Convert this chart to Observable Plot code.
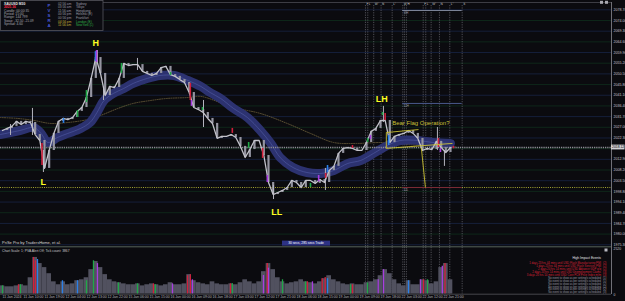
<!DOCTYPE html>
<html><head><meta charset="utf-8">
<script src="https://cdn.jsdelivr.net/npm/d3@7"></script>
<script src="https://cdn.jsdelivr.net/npm/@observablehq/plot@0.6"></script>
<style>
html,body{margin:0;padding:0;background:#0b0b0f;}
#wrap{position:relative;width:625px;height:301px;overflow:hidden;background:#0b0b0f;}
#wrap svg{position:absolute;left:0;}
</style></head><body><div id="wrap"></div>
<script>
const FONT = "'Liberation Sans', Arial, sans-serif";

// ---- price axis ----
const gridPrices = [2078.70,2074.00,2069.30,2064.60,2059.90,2055.20,2050.50,2045.80,2041.10,2036.40,2031.70,2027.00,2022.30,2017.60,2012.90,2008.20,2003.50,1998.80,1994.10,1989.40,1984.70,1980.00,1975.30];
const hiddenTick = 2017.60;
const currentPrice = 2018.1;
const currentLabel = "2018.12";
const supportPrice = 2000.5;

// ---- price series (close every 4 bars, M30) ----
const closes = [2025.6,2026.5,2027.4,2029.6,2028.2,2029.6,2029.1,2023.8,2021.2,2008.9,
2016.8,2024.3,2029.6,2030.9,2030.4,2031.3,2034.0,2035.7,2040.1,2048.5,
2057.7,2050.7,2041.0,2045.0,2044.5,2048.5,2055.1,2054.2,2054.6,2054.6,
2051.6,2050.7,2049.8,2050.7,2053.3,2053.8,2050.2,2049.4,2048.0,2046.7,
2042.3,2035.7,2034.8,2033.5,2030.9,2028.7,2022.1,2023.0,2023.0,2023.8,
2022.5,2018.6,2013.7,2017.2,2021.2,2021.2,2014.6,2002.7,1997.4,1998.3,
1999.2,2000.5,2003.6,2002.7,2000.5,2003.6,2003.6,2002.3,2004.0,2002.7,
2008.0,2009.8,2015.5,2017.7,2018.1,2017.7,2016.8,2016.8,2020.3,2025.2,
2026.5,2030.0,2030.0,2020.3,2023.0,2023.8,2024.3,2025.6,2024.3,2022.1,
2016.8,2017.7,2017.2,2020.8,2018.1,2015.9,2018.1];
const barStep = 4;

// wicks: bar, high, low
const wickBars = [6.9,25.7,35.1,81.4,86.6,115.7,172.3,232.3,276.8,326.5,372.8,378.8];
const wickHigh = [2028.2,2035.3,2016.8,2060.8,2044.1,2057.3,2038.8,2001.4,2008.9,2036.2,2026.9,2016.8];
const wickLow  = [2023.4,2023.4,2007.1,2055.5,2038.8,2052.0,2026.9,1995.2,1999.2,2029.1,2016.8,2009.8];

// coloured (PVSRA) candles: bar, high, low, colour
const pvBars  = [33.9,52.3,64.3,72,79.7,80.6,102,144,161,162,171.4,197,211,223,227,264,271,277,278.6,300,313,315.4,325.7,328,331,373.7,375.4,386.5];
const pvHigh  = [2019.9,2030.9,2034.4,2043.2,2060.3,2060.8,2055.1,2051.1,2046.3,2038.8,2035.7,2026.5,2020.3,2017.7,2005.8,2002.3,2005.8,2006.7,2010.2,2019.0,2022.1,2023.4,2033.5,2033.1,2023.4,2022.1,2017.7,2018.6];
const pvLow   = [2010.2,2028.7,2031.3,2037.9,2056.0,2055.5,2050.7,2049.8,2038.8,2036.2,2034.4,2024.3,2017.7,2013.3,2002.7,2000.5,2003.0,2004.5,2007.1,2017.7,2020.3,2021.6,2032.2,2030.0,2019.0,2018.1,2015.9,2017.6];
const pvColor = ["r","b","g","g","b","m","g","g","r","m","g","r","g","r","m","g","m","r","b","r","g","m","g","r","b","r","m","r"];
const COLORS = {r:"#d0203c", g:"#20a848", b:"#2a80e8", m:"#a83ee0"};

// EMA ribbon
const bandBars = [-2,15,27,33,39,47,56,67,75,81,87,95,104,112,124,135,147,159,170,178,187,198,210,221,230,238,249,261,273,284,296,307,318,330,341,356,369,384];
const bandPrices = [2023.8,2025.6,2026.9,2024.3,2020.3,2022.5,2024.3,2026.5,2029.1,2033.5,2038.8,2041.9,2044.1,2046.3,2048.5,2049.8,2049.8,2047.6,2045.0,2042.3,2039.7,2035.3,2031.3,2025.6,2019.9,2013.7,2009.3,2007.1,2006.7,2008.0,2011.1,2012.4,2015.5,2019.0,2021.2,2021.2,2020.3,2019.9];

// slow MA (dotted)
const maBars = [-2,13,27,41,56,73,84,99,112,127,141,159,170,198,221,244,264,284,304,327,358,388];
const maPrices = [2031.3,2030.9,2030.0,2028.7,2029.1,2030.4,2032.2,2035.3,2037.5,2038.8,2039.7,2040.1,2040.6,2035.7,2033.1,2028.7,2024.3,2020.3,2019.9,2020.3,2019.0,2018.6];

// news event lines
const eventBars = [311.1,313.1,318.2,324.5,334,343.1,344.5,346.2,360.6,362.8,367.4,374.5,383.4,394];
const eventLabels = ["F","L","W*","N","L*","W*","","H","F","L","W*","N","L*","S"];

// weekly levels
const levelNames = ["WH","52H","52L"];
const levelPrices = [2078.4,2037.5,2000.5];
const levelColors = ["#7c8498","#4a5a8c","#7a2a34"];
const levelFrom = 343, levelTo = 394;

// bear flag drawing: x1,y1,x2,y2 (bar, price)
const flagX1 = [329,329,329,359];
const flagY1 = [2024.7,2024.7,2017.7,2018.1];
const flagX2 = [329,356.6,385.7,362.5];
const flagY2 = [2017.7,2026.0,2019.9,2000.5];

// swing labels
const pivotText = ["H","L","LL","LH"];
const pivotBars = [80,35,235,325];
const pivotPrices = [2063.9,2002.7,1989.5,2039.2];
const noteText = "Bear Flag Operation?";
const noteBar = 334, notePrice = 2028.7;

// ---- volume (tick volume every 4 bars) ----
const volumes = [440,390,390,440,500,440,880,1980,1650,1430,
1100,660,500,660,500,550,720,770,880,1320,
1760,1430,1050,770,660,610,550,500,500,550,
440,500,550,500,440,500,610,500,500,550,
1050,720,610,550,500,660,550,500,500,550,
500,610,770,660,550,660,1210,1650,1320,880,
660,550,610,660,770,660,610,550,660,830,
990,770,660,550,500,550,500,500,610,660,
770,990,1320,1100,770,550,440,720,500,500,
770,720,550,660,1430,1650,770];
const volMax = 2520;
const pvVolBars = [0,13.7,15.4,26.6,28.3,30,51.4,64.3,72,78,81.4,99.4,115.7,129.4,131,145.7,158.6,161,162.8,195.4,197,223.7,227,228,240,259.7,261.4,265.7,274,276.6,278.6,298.3,300,312.9,322,326.6,348,358.3,360.9,364.3,377,379.3];
const pvVol = [440,500,500,1980,1800,1870,720,720,720,1800,1650,600,550,550,500,550,990,1050,770,550,550,1000,1650,1400,770,660,660,660,830,900,830,500,500,600,770,1320,720,770,770,770,1500,1650];
const pvVolColor = ["g","r","g","r","r","b","b","b","g","g","m","g","g","r","g","m","r","r","m","r","g","m","r","m","g","g","r","m","r","r","b","g","r","g","m","m","b","m","r","g","m","r"];

// time axis
const timeBars = [0,18,36,54,72,90,108,126,144,162,180,198,216,234,252,270,288,306,324,342,360,378];
const timeLabels = ["11 Jan 2024","11 Jan 10:00","11 Jan 19:00","12 Jan 04:00","12 Jan 13:00","12 Jan 22:00","15 Jan 06:00","15 Jan 15:00","16 Jan 00:00","16 Jan 09:00","16 Jan 18:00","17 Jan 03:00","17 Jan 12:00","17 Jan 21:00","18 Jan 06:00","18 Jan 15:00","19 Jan 00:00","19 Jan 09:00","19 Jan 18:00","22 Jan 03:00","22 Jan 12:00","22 Jan 21:00"];

// ---- text panels ----
const infoLeft = ["XAUUSD  M30","2021.36","Candle:  00:00:35","Period:  15:00","Range:  144  799","Swap:  -32.50  -21.09","Spread:  4.60"];
const pvsraLetters = ["P","V","S","R","A"];
const sessionTimes = ["02:56 am","03:56 am","11:56 am","00:56 pm","00:56 pm","04:56 pm","11:56 am"];
const sessionNames = ["Sydney","Tokyo","Hongkong","Helsinki (E)","Frankfurt","London (E)","NewYork (L)"];
const eventsTitle = "High Impact Events";
const eventsRed = ["1 days 23 hrs 44 mins until USD Flash Manufacturing PMI","1 days 23 hrs 44 mins until USD Flash Services PMI","2 days 20 hrs 14 mins until USD Advance GDP q/q","2 days 20 hrs 14 mins until USD Unemployment Claims","3 days 20 hrs 14 mins until USD Core PCE Price Index m/m"];
const eventsRedImpact = ["(2)","(2)","(2)","(3)","(3)"];
const eventsGray = ["No event to show as per setting/s scheduled","No event to show as per setting/s scheduled","No event to show as per setting/s scheduled","No event to show as per setting/s scheduled","No event to show as per setting/s scheduled","No event to show as per setting/s scheduled"];
const eventsGrayImpact = ["(1)","(1)","(2)","(2)","(2)","(3)"];
const brandText = "PriSe Pro by TradersHome, et al.";
const statusText = "Chart Scale: 1;   PVA Alert Off;   Tick count: 3867";
const timerText = "30 secs, 285 secs Trade";

// ---- build data tables ----
const cData = closes.map((c,i)=>({b:i*barStep, c, prev: i ? closes[i-1] : c}));
const wicks = wickBars.map((b,i)=>({b, hi:wickHigh[i], lo:wickLow[i]}));
const pv = pvBars.map((b,i)=>({b, hi:pvHigh[i], lo:pvLow[i], color:COLORS[pvColor[i]]}));
const band = bandBars.map((b,i)=>({b, p:bandPrices[i]}));
const ma = maBars.map((b,i)=>({b, p:maPrices[i]}));
const levels = levelNames.map((n,i)=>({n, p:levelPrices[i], color:levelColors[i]}));
const flag = flagX1.map((x,i)=>({x1:x, y1:flagY1[i], x2:flagX2[i], y2:flagY2[i]}));
const pivots = pivotText.map((t,i)=>({t, b:pivotBars[i], p:pivotPrices[i]}));
const volData = volumes.map((v,i)=>({b:i*barStep, v}));
const pvVolData = pvVolBars.map((b,i)=>({b, v:pvVol[i], color:COLORS[pvVolColor[i]]}));
const timeMap = new Map(timeBars.map((b,i)=>[b, timeLabels[i]]));

const XD = [-1.7, 522];
const style = {background:"transparent", fontFamily:FONT, color:"#c4c4cc", overflow:"visible"};

const main = Plot.plot({
  width:625, height:247, marginTop:5, marginBottom:0, marginLeft:0, marginRight:14,
  x:{domain:XD, axis:null},
  y:{domain:[1974.1, 2080.6]},
  color:{type:"identity"},
  style,
  marks:[
    Plot.ruleY(gridPrices, {y:d=>d, stroke:(d,i)=> i%2 ? "#0f2a1b" : "#162140", strokeWidth:0.9}),
    Plot.ruleX(eventBars, {x:d=>d, stroke:"#6c6c74", strokeWidth:0.7, strokeDasharray:"1.2,1.2"}),
    Plot.text(eventBars, {x:d=>d, text:(d,i)=>eventLabels[i], frameAnchor:"top", dy:-2.4, dx:1, textAnchor:"start", fontSize:3, fill:"#d0d0d0"}),
    Plot.line(ma, {x:"b", y:"p", stroke:"#74653e", strokeOpacity:0.85, strokeWidth:0.9, strokeDasharray:"1,1.3", curve:"catmull-rom"}),
    Plot.line(band, {x:"b", y:"p", stroke:"#2c3270", strokeWidth:9, curve:"catmull-rom"}),
    Plot.line(band, {x:"b", y:"p", stroke:"#5560aa", strokeWidth:0.8, strokeOpacity:0.7, curve:"catmull-rom"}),
    Plot.ruleY([currentPrice], {stroke:"#8c8c94", strokeWidth:1.3, strokeDasharray:"1.3,0.9"}),
    Plot.ruleY([supportPrice], {stroke:"#a5a530", strokeWidth:1, strokeDasharray:"1,1.2"}),
    Plot.ruleY(levels, {y:"p", x1:levelFrom, x2:levelTo, stroke:"color", strokeWidth:1}),
    Plot.text(levels, {y:"p", x:levelFrom, text:"n", dx:1, dy:2.5, textAnchor:"start", fontSize:2.8, fill:"#9a9aa4"}),
    Plot.ruleX(cData, {x:"b", y1:"prev", y2:"c", stroke:"#9494a0", strokeWidth:2.2}),
    Plot.ruleX(wicks, {x:"b", y1:"hi", y2:"lo", stroke:"#b4b4be", strokeWidth:1}),
    Plot.line(cData, {x:"b", y:"c", stroke:"#c2c2ca", strokeWidth:1.3}),
    Plot.ruleX(pv, {x:"b", y1:"hi", y2:"lo", stroke:"color", strokeWidth:1.6}),
    Plot.link(flag, {x1:"x1", y1:"y1", x2:"x2", y2:"y2", stroke:"#c8c030", strokeWidth:0.9}),
    Plot.text(pivots, {x:"b", y:"p", text:"t", fill:"#ffff22", fontSize:9, fontWeight:"bold"}),
    Plot.text([noteText], {x:noteBar, y:notePrice, text:d=>d, textAnchor:"start", fill:"#c8c038", fontSize:6}),
    Plot.axisY(gridPrices.filter(p=>p!==hiddenTick), {anchor:"right", tickSize:0, tickPadding:2, fontSize:3.6, fill:"#c4c4cc", tickFormat:d=>d.toFixed(2), label:null})
  ]
});
main.style.top = "0px";

const vol = Plot.plot({
  width:625, height:54, marginTop:0, marginBottom:7.5, marginLeft:0, marginRight:14,
  x:{domain:XD},
  y:{domain:[0, volMax]},
  color:{type:"identity"},
  style,
  marks:[
    Plot.ruleX(eventBars, {x:d=>d, stroke:"#6c6c74", strokeWidth:0.7, strokeDasharray:"1.2,1.2"}),
    Plot.rectY(volData, {x1:d=>d.b-barStep/2, x2:d=>d.b+barStep/2, y:"v", fill:"#51515f"}),
    Plot.ruleX(pvVolData, {x:"b", y1:0, y2:"v", stroke:"color", strokeWidth:1.3}),
    Plot.axisX(timeBars, {anchor:"bottom", tickSize:0, tickPadding:1.2, textAnchor:"start", fontSize:3.5, fill:"#b4b4bc", tickFormat:d=>timeMap.get(d), label:null}),
    Plot.axisY([0, volMax], {anchor:"right", tickSize:0, tickPadding:2, fontSize:3.4, fill:"#c4c4cc", tickFormat:d=>String(d), label:null, dy:1})
  ]
});
vol.style.top = "247px";

const wrap = document.getElementById("wrap");
wrap.appendChild(main);
wrap.appendChild(vol);

// ---- overlay: frames and text panels ----
const ys = main.scale("y");
const ov = d3.create("svg").attr("width",625).attr("height",301)
  .style("position","absolute").style("top","0px").style("left","0px")
  .style("font-family",FONT);
const ln = (x1,y1,x2,y2,c,w)=>ov.append("line").attr("x1",x1).attr("y1",y1).attr("x2",x2).attr("y2",y2).attr("stroke",c).attr("stroke-width",w||0.8);
const tx = (x,y,t,size,fill,anchor,weight)=>ov.append("text").attr("x",x).attr("y",y).attr("font-size",size).attr("fill",fill).attr("text-anchor",anchor||"start").attr("font-weight",weight||"normal").text(t);

ln(103,2.5,611,2.5,"#4a4a52");
ln(611.5,2,611.5,294,"#8a8a92",0.8);
ln(0,246.8,611,246.8,"#5d6d62",0.9);
ln(0,294.2,611,294.2,"#55555c",0.8);
ov.append("rect").attr("x",600).attr("y",0.8).attr("width",3).attr("height",3).attr("fill","#a8a8b0");
ov.append("rect").attr("x",605).attr("y",0.8).attr("width",3).attr("height",3).attr("fill","#a8a8b0");

// info panel
ov.append("rect").attr("x",0.5).attr("y",0.5).attr("width",102.5).attr("height",30).attr("fill","#0c0c11").attr("stroke","#55555e").attr("stroke-width",0.8);
infoLeft.forEach((t,i)=>tx(4, 4.6+3.45*i, t, 3.3, i===0?"#e8e8e8":(i===1?"#ff2a4a":"#a8a8b0"), "start", i<2?"bold":"normal"));
pvsraLetters.forEach((t,i)=>tx(49, 7.4+4.9*i, t, 4.4, "#4a5ad8", "middle", "bold"));
sessionTimes.forEach((t,i)=>{
  const c = i>=5 ? "#c8b838" : "#9c9ca6";
  tx(58, 4.5+3.6*i, t, 3.2, c);
});
sessionNames.forEach((t,i)=>{
  const c = i>=5 ? "#30b048" : "#9c9ca6";
  tx(76, 4.5+3.6*i, t, 3.2, c);
});

// brand & status
tx(2, 244.3, brandText, 4, "#d8d8d8");
tx(2, 251.6, statusText, 3.3, "#c8c8cc");

// timer box
ov.append("rect").attr("x",282).attr("y",240.6).attr("width",48).attr("height",5).attr("fill","#2d3284");
tx(306, 244.4, timerText, 3.3, "#ffffff", "middle");

// current price box
const cy = ys.apply(currentPrice);
ov.append("rect").attr("x",611).attr("y",cy-2.4).attr("width",13.5).attr("height",4.8).attr("fill","#d0d0d4");
tx(612, cy+1.2, currentLabel, 3.4, "#000000");

// events panel
ov.append("rect").attr("x",604.5).attr("y",248.5).attr("width",3).attr("height",3).attr("fill","#b8b8c0");
tx(601, 259.4, eventsTitle, 3.3, "#e4e4e8", "end");
eventsRed.forEach((t,i)=>{
  tx(601, 263.8+3*i, t, 2.8, "#d82236", "end");
  tx(603, 263.8+3*i, eventsRedImpact[i], 2.8, "#d82236", "start");
});
eventsGray.forEach((t,i)=>{
  tx(601, 278.8+2.9*i, t, 2.7, "#9a9aa4", "end");
  tx(603, 278.8+2.9*i, eventsGrayImpact[i], 2.7, "#9a9aa4", "start");
});

wrap.appendChild(ov.node());
</script>
</body></html>
